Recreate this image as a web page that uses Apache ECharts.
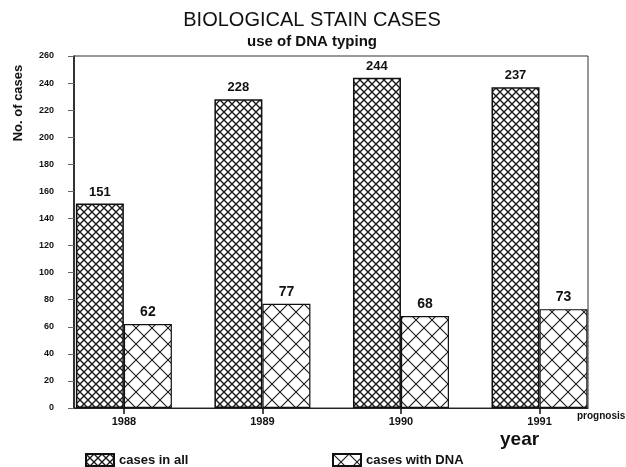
<!DOCTYPE html>
<html lang="en">
<head>
<meta charset="UTF-8"/>
<title>Biological stain cases</title>
<script src="https://cdn.jsdelivr.net/npm/echarts@6/dist/echarts.min.js"></script>
<style>
  html, body { margin: 0; padding: 0; background: #fff; }
  #main { width: 626px; height: 467px; }
</style>
</head>
<body>
<div id="main"></div>
<script type="text/javascript">
// data
var years = [1988, 1989, 1990, 1991];
var casesAll = [151, 228, 244, 237];
var casesDNA = [62, 77, 68, 73];

// cross hatch tiles, dense for all cases, wide for DNA cases
function hatch(size, lw) {
    var c = document.createElement('canvas');
    c.width = size; c.height = size;
    var g = c.getContext('2d');
    g.fillStyle = '#fff';
    g.fillRect(0, 0, size, size);
    g.strokeStyle = '#1a1a1a';
    g.lineWidth = lw;
    g.beginPath();
    g.moveTo(-1, -1); g.lineTo(size + 1, size + 1);
    g.moveTo(size + 1, -1); g.lineTo(-1, size + 1);
    g.stroke();
    return c;
}
var denseFill = { image: hatch(8, 1.4), repeat: 'repeat' };
var wideFill = { image: hatch(16, 1.1), repeat: 'repeat' };

function pairs(vals) {
    return vals.map(function (v, i) { return [years[i], v]; });
}

var myChart = echarts.init(document.getElementById('main'));

var labelFont = { fontFamily: 'Liberation Sans', fontWeight: 'bold', color: '#111' };
var legendText = { fontFamily: 'Liberation Sans', fontSize: 13, fontWeight: 'bold', color: '#111' };

var option = {
    backgroundColor: '#fff',
    animation: false,
    title: {
        text: 'BIOLOGICAL STAIN CASES',
        subtext: 'use of DNA typing',
        left: 307,
        textAlign: 'center',
        top: 5,
        itemGap: 4,
        textStyle: { fontFamily: 'Liberation Sans', fontSize: 20, fontWeight: 'normal', color: '#111' },
        subtextStyle: { fontFamily: 'Liberation Sans', fontSize: 15, fontWeight: 'bold', color: '#111' }
    },
    grid: {
        left: 74, right: 38, top: 56, bottom: 59,
        show: true, borderColor: '#333', borderWidth: 1
    },
    legend: [
        {
            data: [{ name: 'cases in all', icon: 'rect' }], left: 80, top: 448,
            itemWidth: 28, itemHeight: 12, textStyle: legendText
        },
        {
            data: [{ name: 'cases with DNA', icon: 'rect' }], left: 327, top: 448,
            itemWidth: 28, itemHeight: 12, textStyle: legendText
        }
    ],
    xAxis: {
        type: 'value',
        min: 1987.64,
        max: 1991.35,
        name: 'year',
        nameLocation: 'end',
        nameGap: -88,
        nameTextStyle: {
            fontFamily: 'Liberation Sans', fontSize: 19, fontWeight: 'bold', color: '#111',
            verticalAlign: 'top', padding: [22, 0, 0, 0]
        },
        splitLine: { show: false },
        axisLine: { show: true, lineStyle: { color: '#222', width: 1 } },
        axisTick: { show: true, customValues: years, length: 6, lineStyle: { color: '#111', width: 1.5 } },
        axisLabel: Object.assign({
            customValues: years, fontSize: 11, margin: 8,
            formatter: function (v) { return String(v); }
        }, labelFont)
    },
    yAxis: {
        type: 'value',
        min: 0,
        max: 260,
        interval: 20,
        splitLine: { show: false },
        axisLine: { show: true, lineStyle: { color: '#111', width: 1.5 } },
        axisTick: { show: true, length: 6, lineStyle: { color: '#666' } },
        axisLabel: Object.assign({ fontSize: 9, margin: 20 }, labelFont)
    },
    series: [
        {
            name: 'cases in all',
            type: 'bar',
            data: pairs(casesAll),
            barWidth: 48,
            barGap: '0%',
            itemStyle: { color: denseFill, borderColor: '#111', borderWidth: 1.5 },
            label: Object.assign({ show: true, position: 'top', fontSize: 13, distance: 5 }, labelFont)
        },
        {
            name: 'cases with DNA',
            type: 'bar',
            data: pairs(casesDNA),
            barWidth: 48,
            barGap: '0%',
            itemStyle: { color: wideFill, borderColor: '#111', borderWidth: 1.2 },
            label: Object.assign({ show: true, position: 'top', fontSize: 14, distance: 5 }, labelFont)
        }
    ],
    graphic: [
        {
            type: 'text', x: 18, y: 103, rotation: Math.PI / 2,
            style: {
                text: 'No. of cases', align: 'center', verticalAlign: 'middle',
                font: 'bold 13px "Liberation Sans"', fill: '#111'
            }
        },
        {
            type: 'text', x: 577, y: 411,
            style: { text: 'prognosis', font: 'bold 10px "Liberation Sans"', fill: '#111' }
        }
    ]
};

myChart.setOption(option);
</script>
</body>
</html>
